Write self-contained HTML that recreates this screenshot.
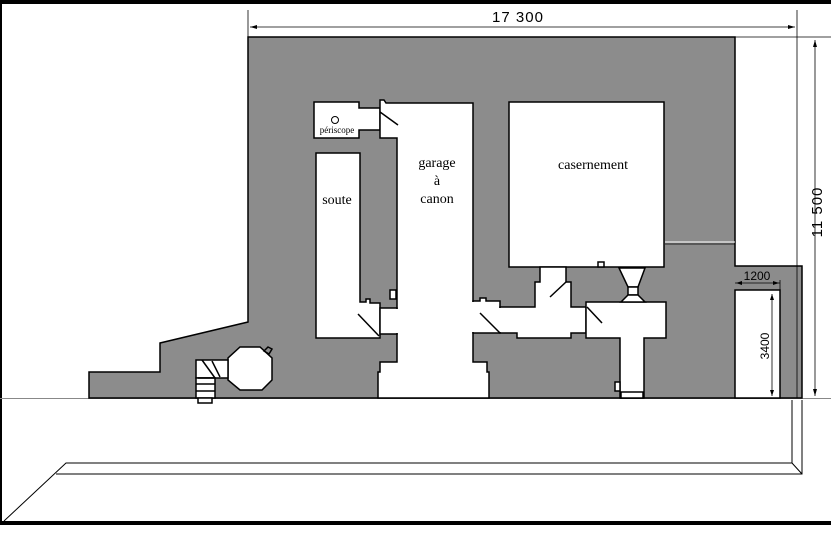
<!DOCTYPE html>
<html><head><meta charset="utf-8"><style>
html,body{margin:0;padding:0;background:#fff;}
svg{display:block;}
</style></head><body>
<svg width="831" height="546" viewBox="0 0 831 546" xmlns="http://www.w3.org/2000/svg">
<rect x="0" y="0" width="831" height="546" fill="#fff"/>
<rect x="0" y="0" width="831" height="4" fill="#000"/>
<rect x="0" y="0" width="2" height="525" fill="#000"/>
<rect x="0" y="521" width="831" height="4" fill="#000"/>
<g fill="none" stroke="#000" stroke-width="1">
<polyline points="4,521 66,463 792,463 792,400"/>
<polyline points="56,474 802,474 802,400"/>
<line x1="792" y1="463" x2="802" y2="474"/>
</g>
<line x1="0" y1="398.5" x2="831" y2="398.5" stroke="#888" stroke-width="1"/>
<polygon points="248,37 735,37 735,266 802,266 802,398 89,398 89,372 160,372 160,343 248,322" fill="#8c8c8c" stroke="#000" stroke-width="1.5"/>
<line x1="665" y1="242" x2="735" y2="242" stroke="#fff" stroke-width="1"/>
<line x1="665" y1="244" x2="735" y2="244" stroke="#000" stroke-width="0.8"/>
<g fill="#fff" stroke="#000" stroke-width="1.5">
<rect x="735" y="290" width="45" height="108"/>
<polygon points="314,102 359,102 359,108 380,108 380,130 359,130 359,138 314,138"/>
<polygon points="380,100 384,100 386,103 473,103 473,362 487,362 487,372 489,372 489,398 378,398 378,372 380,372 380,362 397,362 397,138 380,138"/>
<polygon points="316,153 360,153 360,302 366,302 366,299 370,299 370,303 380,303 380,338 316,338"/>
<polygon points="473,301 480,301 480,298 486,298 486,301 500,301 500,333 473,333"/>
<rect x="509" y="102" width="155" height="165"/>
<polygon points="540,267 566,267 566,282 571,282 571,307 586,307 586,333 571,333 571,338 517,338 517,333 500,333 500,307 535,307 535,282 540,282"/>
<polygon points="586,302 666,302 666,338 644,338 644,398 620,398 620,338 586,338"/>
<polygon points="619,268 645,268 638,287 628,287"/>
<rect x="628" y="287" width="10" height="8"/>
<polygon points="628,295 638,295 645,302 621,302"/>
<polygon points="240,347 260,347 272,358 272,380 262,390 240,390 228,380 228,358"/>
<rect x="196" y="360" width="32" height="18"/>
<rect x="196" y="378" width="19" height="20"/>
<rect x="198" y="398" width="14" height="5"/>
<rect x="598" y="262" width="6" height="5"/>
<rect x="390" y="290" width="6" height="9"/>
<rect x="615" y="382" width="5" height="9"/>
<rect x="621" y="392" width="22" height="6"/>
</g>
<g fill="#fff" stroke="#000" stroke-width="1.5">
<rect x="380" y="308" width="17" height="26"/>
</g>
<rect x="381" y="309" width="17.5" height="24" fill="#fff"/>
<rect x="472" y="302" width="2.5" height="30" fill="#fff"/>
<rect x="499" y="308" width="2.5" height="24" fill="#fff"/>
<g stroke="#000" stroke-width="1.5" fill="none">
<line x1="380" y1="112" x2="398" y2="125"/>
<line x1="358" y1="314" x2="379" y2="336"/>
<line x1="480" y1="313" x2="500" y2="333"/>
<line x1="550" y1="297" x2="566" y2="282"/>
<line x1="587" y1="307" x2="602" y2="323"/>
<line x1="198" y1="378" x2="215" y2="378"/>
<line x1="196" y1="384" x2="215" y2="384"/>
<line x1="196" y1="391" x2="215" y2="391"/>
<line x1="202" y1="360" x2="215" y2="378"/>
<line x1="212" y1="361" x2="220" y2="377"/>
<path d="M264,351 l4,-4 l4,2 l-3,5 z"/>
</g>
<circle cx="335" cy="120" r="3.5" fill="#fff" stroke="#000" stroke-width="1"/>
<g font-family="Liberation Serif, serif" fill="#000" text-anchor="middle">
<text x="337" y="133" font-size="9">périscope</text>
<text x="337" y="204" font-size="14">soute</text>
<text x="437" y="167" font-size="14">garage</text>
<text x="437" y="185" font-size="14">à</text>
<text x="437" y="203" font-size="14">canon</text>
<text x="593" y="169" font-size="14">casernement</text>
</g>
<g stroke="#000" stroke-width="0.8" fill="none">
<line x1="248" y1="10" x2="248" y2="37"/>
<line x1="797" y1="10" x2="797" y2="398"/>
<line x1="250" y1="27" x2="795" y2="27"/>
<line x1="735" y1="37" x2="831" y2="37"/>
<line x1="815" y1="40" x2="815" y2="396"/>
<line x1="735" y1="283" x2="780" y2="283"/>
<line x1="780" y1="280" x2="780" y2="398"/>
<line x1="772" y1="294" x2="772" y2="396"/>
</g>
<g fill="#000">
<polygon points="250,27 257,25 257,29"/>
<polygon points="795,27 788,25 788,29"/>
<polygon points="815,40 813,47 817,47"/>
<polygon points="815,396 813,389 817,389"/>
<polygon points="736,283 742,281 742,285"/>
<polygon points="779,283 773,281 773,285"/>
<polygon points="772,294 770,300 774,300"/>
<polygon points="772,396 770,390 774,390"/>
</g>
<g font-family="Liberation Sans, sans-serif" fill="#000" text-anchor="middle">
<text x="518" y="22" font-size="15" letter-spacing="1">17 300</text>
<text x="0" y="0" font-size="15" letter-spacing="1" transform="translate(822,212) rotate(-90)">11 500</text>
<text x="757" y="280" font-size="12">1200</text>
<text x="0" y="0" font-size="12" transform="translate(769,346) rotate(-90)">3400</text>
</g>
</svg>
</body></html>
